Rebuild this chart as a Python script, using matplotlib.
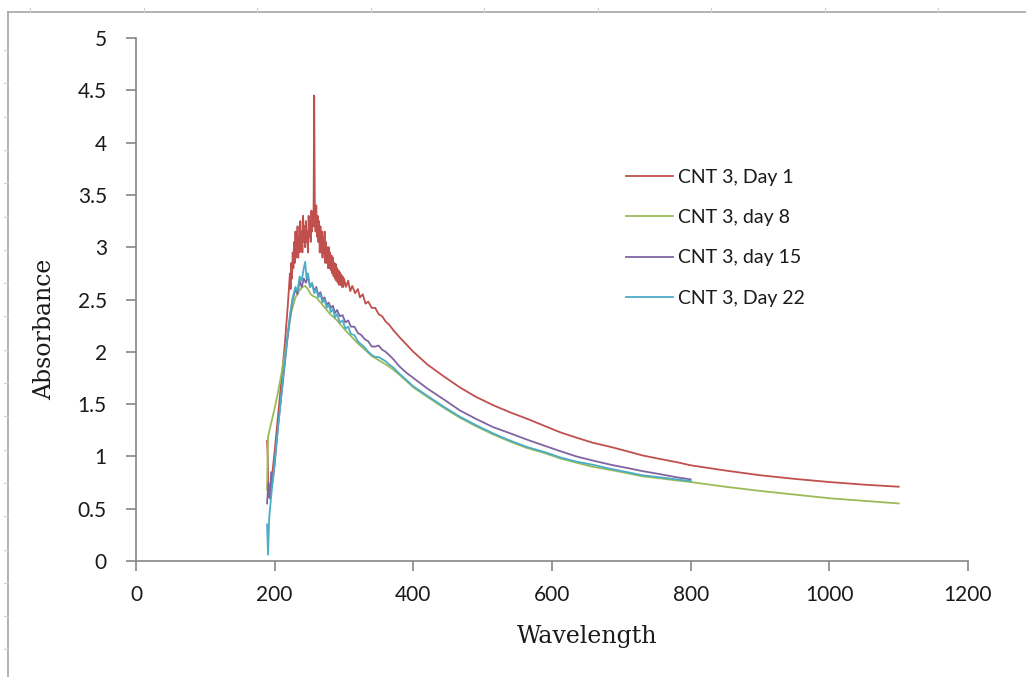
import matplotlib
matplotlib.use("Agg")
import matplotlib.pyplot as plt
from matplotlib.lines import Line2D

# ---------------- data ----------------
day1_wl = [189, 190, 191, 193, 196, 200, 205, 210, 215, 219,
           222, 223, 224, 225, 226, 227, 228, 229, 230, 231, 232, 233, 234, 235, 236, 237, 238, 239, 240,
           241, 242, 243, 244, 245, 246, 247, 248, 249, 250, 251, 252, 253, 254, 255, 256, 257, 258, 259, 260,
           261, 262, 263, 264, 265, 266, 267, 268, 269, 270, 271, 272, 273, 274, 275, 276, 277, 278, 279, 280,
           281, 282, 283, 284, 285, 286, 287, 288, 289, 290, 291, 292, 293, 294, 295, 296, 297, 298, 299, 300,
           303, 306, 309, 312, 316, 320, 323, 327, 331, 335, 340, 345, 350, 355, 360, 365, 372, 380, 390, 400,
           420, 445, 467, 490, 515, 540, 564, 590, 612, 635, 659, 685, 708, 730, 756, 780, 800, 850, 900, 950,
           1000, 1050, 1100]
day1_abs = [1.15, 1.0, 0.62, 0.6, 0.8, 1.05, 1.4, 1.75, 2.1, 2.45,
            2.75, 2.6, 2.85, 2.7, 2.95, 2.8, 3.05, 2.85, 3.15, 2.9, 3.0, 3.2, 2.9, 3.1, 2.95, 3.25, 3.0, 3.15, 2.95,
            3.3, 3.05, 3.2, 3.0, 3.25, 3.05, 3.15, 2.95, 3.3, 3.1, 3.25, 3.05, 3.35, 3.15, 3.3, 3.2, 4.45, 3.3, 3.15, 3.4,
            3.1, 3.3, 3.05, 3.25, 2.95, 3.2, 2.95, 3.15, 2.9, 3.1, 2.95, 3.15, 2.85, 3.05, 2.85, 3.0, 2.8, 3.0, 2.8, 2.95,
            2.78, 2.92, 2.75, 2.9, 2.72, 2.85, 2.7, 2.84, 2.68, 2.8, 2.66, 2.78, 2.64, 2.76, 2.64, 2.74, 2.62, 2.72, 2.62, 2.7,
            2.62, 2.68, 2.58, 2.63, 2.56, 2.6, 2.52, 2.55, 2.46, 2.48, 2.42, 2.42, 2.36, 2.34, 2.29, 2.26, 2.2, 2.14, 2.07, 2.0,
            1.88, 1.76, 1.66, 1.57, 1.49, 1.42, 1.36, 1.29, 1.23, 1.18, 1.13, 1.09, 1.05, 1.01, 0.975, 0.945, 0.915, 0.865, 0.82, 0.785,
            0.755, 0.73, 0.71]

day8_wl = [189, 190.5, 195, 200, 205, 210, 217, 224, 230, 235, 240, 244, 248, 252, 256, 260, 265, 270, 275,
           280, 285, 290, 300, 310, 320, 330, 340, 350, 360, 371, 380, 390, 400, 420, 445, 467, 490, 515,
           540, 564, 590, 612, 635, 659, 685, 708, 730, 756, 780, 800, 850, 900, 950, 1000, 1050, 1100]
day8_abs = [0.68, 1.19, 1.32, 1.46, 1.62, 1.8, 2.08, 2.38, 2.52, 2.58, 2.62, 2.63, 2.6, 2.55, 2.53, 2.52, 2.48, 2.44, 2.4,
            2.36, 2.33, 2.3, 2.22, 2.15, 2.08, 2.02, 1.96, 1.92, 1.88, 1.83, 1.78, 1.72, 1.66, 1.57, 1.46, 1.37, 1.29, 1.21,
            1.14, 1.08, 1.03, 0.98, 0.94, 0.90, 0.87, 0.84, 0.81, 0.79, 0.77, 0.755, 0.71, 0.67, 0.635, 0.60, 0.575, 0.55]

day15_wl = [189, 191, 193, 195, 197, 200, 205, 212, 218, 222, 226, 230, 233, 236, 239, 242, 245, 248, 251, 254,
            257, 260, 263, 266, 269, 272, 275, 278, 281, 284, 287, 290, 294, 298, 302, 306, 310, 315, 320, 325,
            330, 335, 340, 345, 350, 355, 360, 365, 371, 380, 390, 400, 420, 445, 467, 490, 515, 540, 564, 590,
            612, 635, 659, 685, 708, 730, 756, 780, 800]
day15_abs = [0.55, 0.75, 0.6, 0.85, 0.75, 0.92, 1.3, 1.72, 2.1, 2.32, 2.5, 2.6, 2.55, 2.68, 2.62, 2.7, 2.66, 2.72, 2.62, 2.65,
             2.58, 2.62, 2.54, 2.57, 2.5, 2.52, 2.45, 2.47, 2.42, 2.44, 2.37, 2.4, 2.34, 2.35, 2.28, 2.3, 2.24, 2.24, 2.18, 2.16,
             2.12, 2.1, 2.05, 2.05, 2.06, 2.02, 2.0, 1.97, 1.93, 1.86, 1.8, 1.75, 1.65, 1.54, 1.44, 1.36, 1.28, 1.22, 1.16, 1.1,
             1.05, 1.0, 0.96, 0.92, 0.89, 0.86, 0.83, 0.8, 0.78]

day22_wl = [189, 190.5, 192, 195, 200, 206, 212, 218, 222, 226, 230, 233, 236, 239, 242, 244, 246, 248, 251, 254,
            257, 260, 263, 266, 269, 272, 275, 278, 281, 284, 287, 290, 294, 298, 302, 306, 310, 315, 320, 325,
            330, 335, 340, 345, 350, 355, 360, 365, 371, 380, 390, 400, 420, 445, 467, 490, 515, 540, 564, 590,
            612, 635, 659, 685, 708, 730, 756, 780, 800]
day22_abs = [0.35, 0.06, 0.4, 0.62, 0.95, 1.35, 1.75, 2.12, 2.35, 2.52, 2.62, 2.58, 2.72, 2.68, 2.8, 2.86, 2.7, 2.75, 2.62, 2.66,
             2.56, 2.6, 2.52, 2.55, 2.47, 2.5, 2.42, 2.45, 2.38, 2.41, 2.33, 2.36, 2.28, 2.3, 2.22, 2.24, 2.17, 2.16, 2.1, 2.07,
             2.04, 2.0, 1.97, 1.95, 1.95, 1.93, 1.91, 1.88, 1.85, 1.79, 1.73, 1.67, 1.58, 1.47, 1.38, 1.30, 1.22, 1.15, 1.09, 1.04,
             0.99, 0.95, 0.92, 0.88, 0.85, 0.82, 0.80, 0.78, 0.765]

series_labels = ["CNT 3, Day 1", "CNT 3, day 8", "CNT 3, day 15", "CNT 3, Day 22"]
series_colors = ["#C0504D", "#9BBB59", "#8064A2", "#4BACC6"]
x_ticks = [0, 200, 400, 600, 800, 1000, 1200]
y_ticks = [0, 0.5, 1, 1.5, 2, 2.5, 3, 3.5, 4, 4.5, 5]
y_tick_labels = ["0", "0.5", "1", "1.5", "2", "2.5", "3", "3.5", "4", "4.5", "5"]

# ---------------- figure ----------------
W, H = 1026, 677
fig = plt.figure(figsize=(W / 100, H / 100), dpi=100)
fig.patch.set_facecolor("white")

# outer frame (document border with faint ruler ticks)
frame_col = "#A6A6A6"
fig.add_artist(Line2D([8 / W, 8 / W], [0, 1 - 12 / H], transform=fig.transFigure, color=frame_col, lw=1.2))
fig.add_artist(Line2D([8 / W, 1], [1 - 12 / H, 1 - 12 / H], transform=fig.transFigure, color=frame_col, lw=1.2))
for k in range(10):
    xp = 30 + 113.5 * k
    if xp < W:
        fig.add_artist(Line2D([xp / W, xp / W], [1 - 8 / H, 1 - 12 / H], transform=fig.transFigure,
                              color="#D0D0D0", lw=0.8))
for k in range(20):
    yp = 50 + 33.3 * k
    if yp < H:
        fig.add_artist(Line2D([4 / W, 8 / W], [1 - yp / H, 1 - yp / H], transform=fig.transFigure,
                              color="#D0D0D0", lw=0.8))

ax = fig.add_axes([136 / W, 1 - 561 / H, (968 - 136) / W, (561 - 38) / H])
ax.set_facecolor("white")

data = [(day1_wl, day1_abs), (day8_wl, day8_abs), (day15_wl, day15_abs), (day22_wl, day22_abs)]
for (wl, ab), lab, col in zip(data, series_labels, series_colors):
    ax.plot(wl, ab, color=col, lw=1.3, label=lab, solid_joinstyle="round")

ax.set_xlim(0, 1200)
ax.set_ylim(0, 5)
ax.set_xticks(x_ticks)
ax.set_yticks(y_ticks)
ax.set_yticklabels(y_tick_labels)

for s in ["top", "right"]:
    ax.spines[s].set_visible(False)
for s in ["left", "bottom"]:
    ax.spines[s].set_color("#868686")
    ax.spines[s].set_linewidth(1.2)

ax.tick_params(axis="both", direction="out", length=7, width=1.2, color="#868686",
               labelsize=15, labelcolor="#1a1a1a")
ax.tick_params(axis="y", pad=14)
ax.tick_params(axis="x", pad=10)
for lbl in ax.get_xticklabels() + ax.get_yticklabels():
    lbl.set_fontfamily("Lato")

fig.text(587 / W, 1 - 637 / H, "Wavelength", ha="center", va="center",
         fontsize=17, family="DejaVu Serif", color="#1a1a1a")
fig.text(45 / W, 1 - 329 / H, "Absorbance", ha="center", va="center", rotation=90,
         fontsize=17, family="DejaVu Serif", color="#1a1a1a")

leg = ax.legend(loc="upper left", bbox_to_anchor=(618 / W, 1 - 161 / H), bbox_transform=fig.transFigure,
                frameon=False, handlelength=2.45, handletextpad=0.25, labelspacing=1.2,
                borderaxespad=0, prop={"family": "Lato", "size": 14})
for t in leg.get_texts():
    t.set_color("#1a1a1a")
for h in leg.get_lines():
    h.set_linewidth(1.3)

fig.savefig("out.png", dpi=100, facecolor="white")
